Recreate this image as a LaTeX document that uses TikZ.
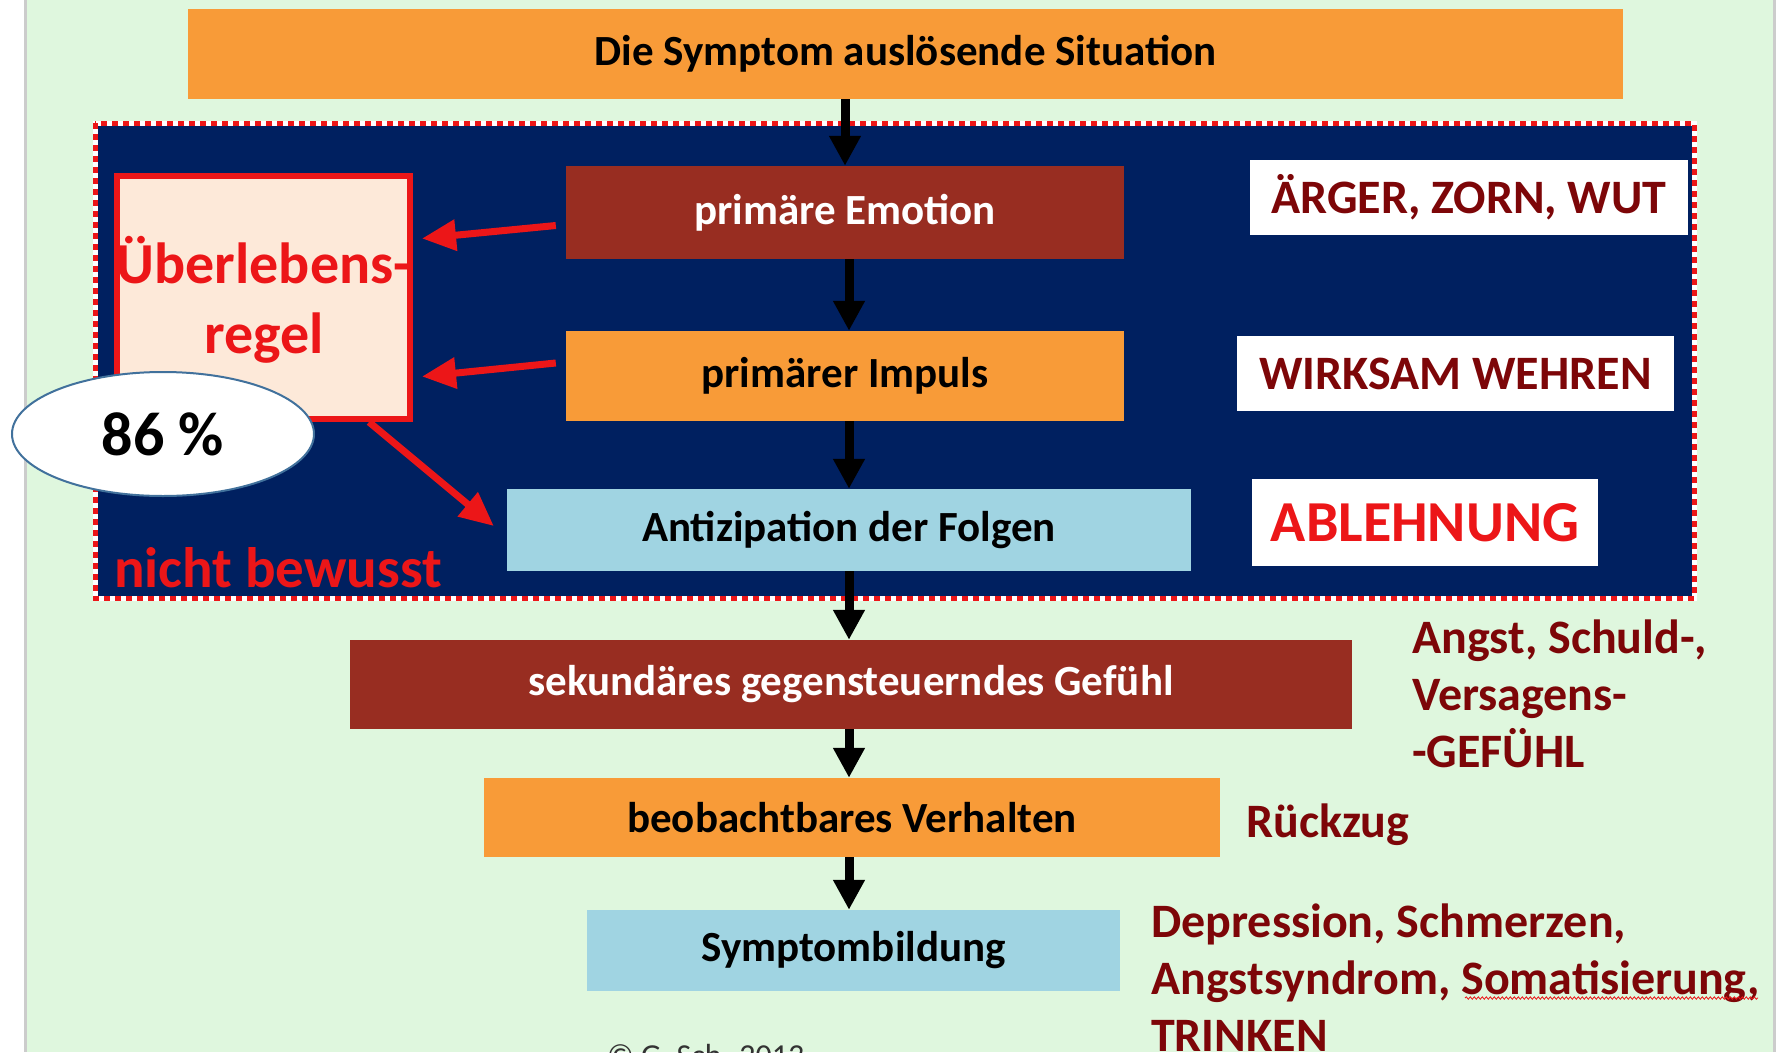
\documentclass[tikz,border=0pt]{standalone}
\usepackage{fontspec}
\setmainfont{Carlito}
\usetikzlibrary{arrows.meta,shapes.geometric,decorations.pathmorphing}
\definecolor{bggreen}{RGB}{223,247,222}
\definecolor{boxorange}{RGB}{248,155,56}
\definecolor{boxbrown}{RGB}{152,45,33}
\definecolor{boxblue}{RGB}{160,212,226}
\definecolor{navy}{RGB}{0,32,96}
\definecolor{peach}{RGB}{253,233,217}
\definecolor{alarmred}{RGB}{236,22,24}
\definecolor{darkred}{RGB}{125,6,8}
\definecolor{ellblue}{RGB}{65,113,156}

\begin{document}
\begin{tikzpicture}[x=1pt,y=-1pt,
    flowbox/.style={rectangle,inner sep=0pt,font=\fontsize{43}{50}\selectfont\bfseries},
    tagbox/.style={rectangle,fill=white,inner sep=0pt,text=darkred,font=\fontsize{48}{56}\selectfont\bfseries},
    note/.style={anchor=base west,align=left,inner sep=0pt,text=darkred,font=\fontsize{48}{57}\selectfont\bfseries},
    flow/.style={line width=9pt,-{Triangle[width=30pt,length=30pt]}},
    redarrow/.style={draw=alarmred,line width=7pt,-{Triangle[width=30pt,length=34pt]}}]
        \useasboundingbox (0,0) rectangle (1780,1052);
        % background
        \fill[white] (0,0) rectangle (1780,1052);
        \fill[bggreen] (25,0) rectangle (1774,1052);
        \draw[black!20,line width=3pt] (25,0) -- (25,1052);
        \draw[black!20,line width=3pt] (1774,0) -- (1774,1052);
        % unconscious area
        \fill[navy] (95,123) rectangle (1694,598);
        \draw[white,line width=5pt] (95,123) rectangle (1694,598);
        \draw[alarmred,line width=5pt,dash pattern=on 6pt off 5pt] (95,123) rectangle (1694,598);
        % flow chain
        \node[flowbox,fill=boxorange,minimum width=1435pt,minimum height=90pt] (sit) at (905.5,54) {Die Symptom auslösende Situation};
        \node[flowbox,fill=boxbrown,text=white,minimum width=558pt,minimum height=93pt] (emo) at (845,212.5) {primäre Emotion};
        \node[flowbox,fill=boxorange,minimum width=558pt,minimum height=90pt] (imp) at (845,376) {primärer Impuls};
        \node[flowbox,fill=boxblue,minimum width=684pt,minimum height=82pt] (ant) at (849,530) {Antizipation der Folgen};
        \node[flowbox,fill=boxbrown,text=white,minimum width=1002pt,minimum height=89pt] (sek) at (851,684.5) {sekundäres gegensteuerndes Gefühl};
        \node[flowbox,fill=boxorange,minimum width=736pt,minimum height=79pt] (ver) at (852,817.5) {beobachtbares Verhalten};
        \node[flowbox,fill=boxblue,minimum width=533pt,minimum height=81pt] (sym) at (853.5,950.5) {Symptombildung};
        \draw[flow] (sit.south -| emo.north) -- (emo.north);
        \draw[flow] ([xshift=4pt]emo.south) -- ([xshift=4pt]imp.north);
        \draw[flow] ([xshift=4pt]imp.south) -- (ant.north);
        \draw[flow] (ant.south) -- (ant.south |- sek.north);
        \draw[flow] (ant.south |- sek.south) -- (ant.south |- ver.north);
        \draw[flow] (ant.south |- ver.south) -- (ant.south |- sym.north);
        % survival rule
        \node[draw=alarmred,line width=6pt,fill=peach,minimum width=293pt,minimum height=243pt] (regel) at (263.5,297.5) {};
        \node[align=center,text=alarmred,font=\fontsize{58}{70}\selectfont\bfseries] (regeltext) at (264,300) {Überlebens-\\regel};
        \draw[redarrow] ([xshift=-10pt,yshift=-13pt]emo.west) -- ([xshift=9pt,yshift=59pt]regel.east);
        \draw[redarrow] ([xshift=-10pt,yshift=13pt]imp.west) -- ([xshift=9pt,yshift=-79pt]regel.east);
        \draw[redarrow] ([xshift=-44pt]regel.south east) -- ([xshift=-13pt,yshift=4pt]ant.west);
        \node[ellipse,draw=ellblue,line width=2pt,fill=white,minimum width=302pt,minimum height=124pt,font=\fontsize{62}{64}\selectfont\bfseries] (pct) at (163,434) {86 \%};
        \node[anchor=base west,inner sep=0pt,text=alarmred,font=\fontsize{57}{60}\selectfont\bfseries] (unbewusst) at (114,587) {nicht bewusst};
        % tags
        \node[tagbox,minimum width=438pt,minimum height=75pt] (wut) at (1469,197.5) {ÄRGER, ZORN, WUT};
        \node[tagbox,minimum width=437pt,minimum height=75pt] (wehren) at (1455.5,373.5) {WIRKSAM WEHREN};
        \node[tagbox,minimum width=346pt,minimum height=87pt,text=alarmred,font=\fontsize{58}{60}\selectfont\bfseries] (ablehnung) at (1425,522.5) {ABLEHNUNG};
        % notes (base = last line)
        \node[note] (gefuehl) at (1412,767) {Angst, Schuld-,\\Versagens-\\-GEFÜHL};
        \node[note] (rueckzug) at (1246,837) {Rückzug};
        \node[note] (folgen) at (1151,1051) {Depression, Schmerzen,\\Angstsyndrom, Somatisierung,\\TRINKEN};
        \draw[alarmred,line width=0.8pt,decorate,decoration={snake,amplitude=1.2pt,segment length=4pt}] (1465,998) -- (1758,998);
        \node[anchor=base west,inner sep=0pt,text=black!80,font=\fontsize{32}{36}\selectfont] (copy) at (607,1066) {© G. Sch. 2013};
    \end{tikzpicture}
\end{document}
